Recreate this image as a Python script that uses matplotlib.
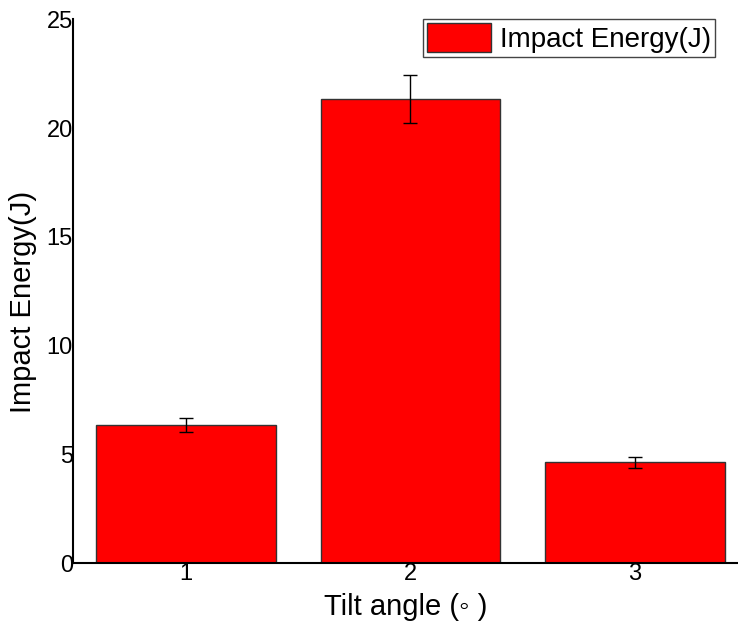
import matplotlib.pyplot as plt

angles = [1, 2, 3]
energy = [6.34, 21.33, 4.64]
errors = [0.32, 1.1, 0.25]

plt.rcParams['font.family'] = ['Liberation Sans', 'DejaVu Sans']

fig = plt.figure(figsize=(7.38, 6.27), dpi=100)
ax = fig.add_axes([0.0989, 0.102, 0.9011, 0.8673])

ax.bar(angles, energy, width=0.8, color='#ff0000', edgecolor='#333333', linewidth=1,
       yerr=errors, capsize=5, error_kw=dict(ecolor='black', elinewidth=1, capthick=1),
       label='Impact Energy(J)')

ax.set_xlim(0.496, 3.46)
ax.set_ylim(0, 25)
ax.set_xticks(angles)
ax.set_yticks([0, 5, 10, 15, 20, 25])
ax.tick_params(length=0, labelsize=17, pad=0)

for s in ['top', 'right']:
    ax.spines[s].set_visible(False)
for s in ['left', 'bottom']:
    ax.spines[s].set_linewidth(1.5)

ax.set_xlabel('Tilt angle (◦ )', fontsize=21, labelpad=6)
ax.set_ylabel('Impact Energy(J)', fontsize=21)
ax.yaxis.set_label_coords(-0.054, 0.48)

leg = ax.legend(loc='upper right', bbox_to_anchor=(0.9654, 1.0), fontsize=20, fancybox=False,
                framealpha=1, edgecolor='#444444', handlelength=2.3, handleheight=1.2,
                borderpad=0.15, handletextpad=0.3, borderaxespad=0)
leg.get_frame().set_linewidth(1)

fig.savefig('out.png', dpi=100)
